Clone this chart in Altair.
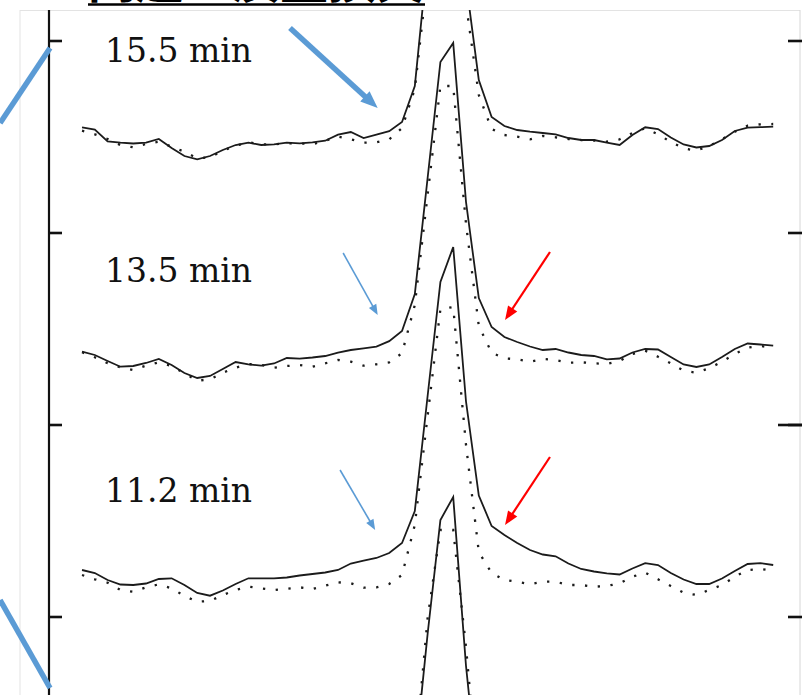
import math
import altair as alt
import pandas as pd

# ---- spectra: relative intensity (a.u.) per channel, each spectrum stacked by an offset ----
channel = list(range(55))

solid_155 = [49.7, 47.5, 35.5, 34.3, 33.5, 34.3, 38, 29, 21, 17.7, 21, 27, 32, 34.3, 32, 32.7, 34.3,
             33.7, 34.7, 36.3, 42.4, 45, 39, 42.4, 45.8, 55, 91,
             219, 335, 354, 195, 97,
             60, 51, 47, 45.3, 44, 42.7, 39, 37, 37, 34.3, 32, 42, 49.7, 48, 39.5, 32.5, 29.5, 31,
             37, 46, 49.3, 49.8, 50.3]
dotted_155 = [46.3, 42.7, 38, 32, 29.7, 33, 35.3, 30.3, 25.3, 18.7, 19.7, 26.3, 31.3, 34.7, 32.7, 32.7,
              33.7, 33.7, 32.7, 36.3, 40.3, 37.7, 34.3, 34.7, 37.7, 49, 88,
              202, 311, 311, 173, 82,
              48, 42, 40.3, 37.7, 41, 39.7, 38, 37, 36.5, 35.3, 37.7, 44, 48.7, 42.7, 35, 28.7, 26.3,
              31, 37.7, 45.3, 51.3, 52.7, 53]

solid_135 = [45.3, 42, 36, 30.3, 31, 34, 38, 32, 24, 19, 21, 28, 35, 32.7, 31.3, 33.5, 39, 38.3, 39.5,
             41, 44.3, 47, 48.7, 50.3, 55.8, 66, 103,
             219, 335, 354, 195, 99,
             70, 60, 55, 50.5, 47, 48, 44.5, 42, 41, 37.7, 38.5, 44.5, 48, 47.5, 40, 32.5, 30, 32.5,
             40, 48, 53.5, 52.5, 51.3]
dotted_135 = [44.7, 39.7, 33.7, 29.7, 27, 31.3, 34.7, 31, 23.7, 16.3, 17.7, 24.3, 29.3, 33, 32, 29.3,
              31, 32, 30.3, 33.7, 37, 35.3, 31.3, 32.7, 34.7, 43.7, 92,
              202, 311, 311, 173, 71,
              44.3, 38.7, 37.7, 35.3, 38, 37, 34.3, 34.7, 33.7, 33, 36, 43, 46.3, 40.3, 33.7, 26.3,
              24.3, 28.7, 35.3, 43, 49.3, 51, 49.3]

solid_112 = [47, 44, 37, 32.5, 32, 33.5, 38, 38.7, 32, 24, 21.3, 26.5, 33, 38.7, 38.7, 38.7, 39.5,
             41.5, 43, 44.5, 47, 53.5, 56.3, 59, 64, 74, 106,
             221, 335, 370, 215.5, 121.5,
             91, 82, 74, 67, 62.5, 60.7, 53.5, 48, 45.5, 43.7, 42.5, 48.5, 53.8, 52, 44, 37.5, 33, 33,
             38.5, 46, 53, 53.8, 52]
dotted_112 = [42, 37.7, 34.3, 27, 25.3, 29.7, 32.7, 28.7, 21, 15.3, 16, 22, 27, 30.3, 28.7, 27, 28.3,
              29.7, 28, 31.3, 34.7, 33.7, 29.3, 29.7, 33, 42, 92,
              201, 308, 310, 172, 65,
              44, 37, 35.3, 32.7, 35.3, 35.3, 32, 32, 30.3, 31, 33.7, 40.3, 44.3, 37.7, 31, 24.3, 22,
              27, 32, 40.3, 47, 48, 46.3]

# lowest spectrum: only its peak rises into view
channel_low = list(range(25, 33))
solid_low = [60, 77, 203, 317, 340, 171, 47, 40]
dotted_low = [55, 77, 219, 307, 307, 190, 47, 40]

labels = ["15.5\u00a0min", "13.5\u00a0min", "11.2\u00a0min"]
offsets = [440, 220, 0]
offset_low = -220
label_channel = 1.8
label_rise = 125

tick_values = [0, 192, 384, 576]
long_right_tick = [192]

title_text = "问题：质量损失"

# annotation arrows, (x0, y0, x1, y1) in data units; the head sits at (x1, y1)
arrow_blue_big = [(16.25, 589, 23.1, 509)]
arrows_blue_thin = [(20.4, 364, 23.1, 302), (20.16, 147, 22.9, 87)]
arrows_red = [(36.56, 365, 33.05, 297), (36.56, 160, 33.05, 92)]
# connector strokes running off the left edge
connectors_blue = [(-6.4, 494, -2.5, 569), (-6.4, 17, -2.5, -71)]

# ---- layout ----
PLOT_W, PLOT_H = 753, 685
XMIN, XMAX = -2.58, 56.25
YMIN, YMAX = -78, 607
PX_X = PLOT_W / (XMAX - XMIN)
PX_Y = PLOT_H / (YMAX - YMIN)

x_scale = alt.Scale(domain=[XMIN, XMAX], nice=False, zero=False)
y_scale = alt.Scale(domain=[YMIN, YMAX], nice=False, zero=False)
X = lambda f: alt.X(f, type="quantitative", scale=x_scale, axis=None)
Y = lambda f: alt.Y(f, type="quantitative", scale=y_scale, axis=None)

INK = "#1b1b1b"
BLUE = "#5b9bd5"
RED = "#ff0000"

# ---- spectra table ----
rows = []
for name, off, s, d in zip(labels, offsets,
                           [solid_155, solid_135, solid_112],
                           [dotted_155, dotted_135, dotted_112]):
    for c, a, b in zip(channel, s, d):
        rows.append({"ch": c, "y": a + off, "trace": name, "kind": "solid"})
        rows.append({"ch": c, "y": b + off, "trace": name, "kind": "dotted"})
for c, a, b in zip(channel_low, solid_low, dotted_low):
    rows.append({"ch": c, "y": a + offset_low, "trace": "low", "kind": "solid"})
    rows.append({"ch": c, "y": b + offset_low, "trace": "low", "kind": "dotted"})
spec = pd.DataFrame(rows)

solid_lines = alt.Chart(spec[spec.kind == "solid"]).mark_line(
    color=INK, strokeWidth=1.8, clip=True, strokeJoin="miter"
).encode(x=X("ch"), y=Y("y"), detail="trace:N", order="ch:Q")

dotted_lines = alt.Chart(spec[spec.kind == "dotted"]).mark_line(
    color=INK, strokeWidth=2.3, strokeDash=[2.3, 10.5], clip=True
).encode(x=X("ch"), y=Y("y"), detail="trace:N", order="ch:Q")

label_df = pd.DataFrame({"text": labels,
                         "x": [label_channel] * 3,
                         "y": [o + label_rise for o in offsets]})
label_marks = alt.Chart(label_df).mark_text(
    font="DejaVu Serif", fontSize=33, align="left", baseline="middle", color="#111111"
).encode(x=X("x"), y=Y("y"), text="text:N")

# ---- frame, axis line and inward ticks ----
one = pd.DataFrame({"k": [0]})
frame = alt.layer(
    alt.Chart(one).mark_rule(color="#e3e3e3", strokeWidth=1).encode(
        x=alt.value(-29), x2=alt.value(751), y=alt.value(0.5)),
    alt.Chart(one).mark_rule(color="#e3e3e3", strokeWidth=1).encode(
        x=alt.value(-29), y=alt.value(0), y2=alt.value(PLOT_H)),
    alt.Chart(one).mark_rule(color="#d6d6d6", strokeWidth=1).encode(
        x=alt.value(751), y=alt.value(0), y2=alt.value(PLOT_H)),
)
axis_line = alt.Chart(one).mark_rule(color="#111111", strokeWidth=2.2).encode(
    x=alt.value(0), y=alt.value(0), y2=alt.value(PLOT_H))
ticks_df = pd.DataFrame({"t": tick_values})
left_ticks = alt.Chart(ticks_df).mark_rule(color="#111111", strokeWidth=2.6).encode(
    y=Y("t"), x=alt.value(0), x2=alt.value(13))
right_ticks = alt.Chart(ticks_df).mark_rule(color="#111111", strokeWidth=2.6).encode(
    y=Y("t"), x=alt.value(739), x2=alt.value(PLOT_W))
right_long = alt.Chart(pd.DataFrame({"t": long_right_tick})).mark_rule(
    color="#111111", strokeWidth=2.6).encode(y=Y("t"), x=alt.value(729), x2=alt.value(PLOT_W))

# ---- heading, mostly above the top edge ----
title_df = pd.DataFrame({"t": [title_text]})
title = alt.Chart(title_df).mark_text(
    font="Noto Sans CJK SC", fontSize=48, fontWeight="bold", align="left",
    baseline="alphabetic", color="#000000"
).encode(x=alt.value(39), y=alt.value(-12), text="t:N")
title_rule = alt.Chart(one).mark_rule(color="#000000", strokeWidth=2.5).encode(
    x=alt.value(39), x2=alt.value(376), y=alt.value(-5.6))

# ---- arrows ----
HEAD = "M0,-1L0.8,1L-0.8,1Z"


def arrow_layers(segs, color, width, head_size):
    shafts, heads = [], []
    half = math.sqrt(head_size) / 2
    for x0, y0, x1, y1 in segs:
        dx = (x1 - x0) * PX_X
        dy = -(y1 - y0) * PX_Y
        n = math.hypot(dx, dy)
        ux, uy = dx / n, dy / n
        cx = x1 - ux * half / PX_X
        cy = y1 + uy * half / PX_Y
        ang = math.degrees(math.atan2(ux, -uy)) % 360
        shafts.append({"x0": x0, "y0": y0, "x1": cx, "y1": cy})
        heads.append({"x": cx, "y": cy, "ang": ang})
    shaft = alt.Chart(pd.DataFrame(shafts)).mark_rule(
        color=color, strokeWidth=width, strokeCap="butt"
    ).encode(x=X("x0"), y=Y("y0"), x2="x1:Q", y2="y1:Q")
    head = alt.Chart(pd.DataFrame(heads)).mark_point(
        shape=HEAD, filled=True, color=color, opacity=1, size=head_size, strokeWidth=0
    ).encode(x=X("x"), y=Y("y"), angle=alt.Angle("ang:Q", scale=None))
    return [shaft, head]


connector_df = pd.DataFrame(
    [{"x0": a, "y0": b, "x1": c, "y1": d} for a, b, c, d in connectors_blue])
connectors = alt.Chart(connector_df).mark_rule(
    color=BLUE, strokeWidth=5.5, strokeCap="butt"
).encode(x=X("x0"), y=Y("y0"), x2="x1:Q", y2="y1:Q")

layers = [frame, dotted_lines, solid_lines, axis_line, left_ticks, right_ticks, right_long,
          label_marks, title, title_rule, connectors]
layers += arrow_layers(arrow_blue_big, BLUE, 5.5, 300)
layers += arrow_layers(arrows_blue_thin, BLUE, 1.6, 110)
layers += arrow_layers(arrows_red, RED, 2.2, 190)

chart = alt.layer(*layers).properties(
    width=PLOT_W, height=PLOT_H,
    padding={"left": 49, "top": 10, "right": 0, "bottom": 0},
    autosize="none", background="white",
).configure_view(strokeWidth=0)

chart.save("out.html", embed_options={"renderer": "svg", "actions": False})
